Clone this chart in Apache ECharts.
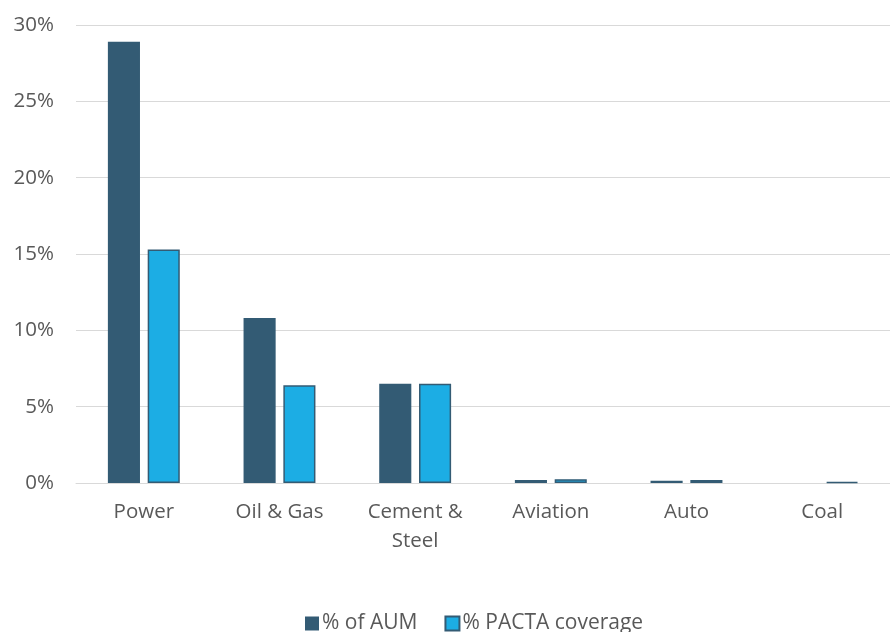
<!DOCTYPE html>
<html>
<head>
<meta charset="utf-8">
<script src="https://cdn.jsdelivr.net/npm/echarts@6/dist/echarts.min.js"></script>
<style>
  html, body { margin: 0; padding: 0; background: #fff; }
  #chart { width: 890px; height: 632px; }
</style>
</head>
<body>
<div id="chart"></div>
<script>
// sectors and shares (percent)
const sectors = ["Power", "Oil & Gas", "Cement &\nSteel", "Aviation", "Auto", "Coal"];
const aumShare = [28.9, 10.8, 6.5, 0.2, 0.15, 0.0];
const pactaCoverage = [15.3, 6.4, 6.5, 0.25, 0.2, 0.08];
const yTicks = [0, 5, 10, 15, 20, 25, 30];

const labelFont = '"Open Sans", "Liberation Sans", sans-serif';

const chart = echarts.init(document.getElementById("chart"), null, { renderer: "canvas" });

chart.setOption({
  animation: false,
  grid: { left: 76, right: 0, top: 25, bottom: 149, containLabel: false },
  legend: {
    top: 608,
    left: 300,
    itemWidth: 14,
    itemHeight: 14,
    itemGap: 27,
    icon: "rect",
    textStyle: { fontFamily: labelFont, fontSize: 21, color: "#595959", padding: [0, 0, 0, -2] },
    data: ["% of AUM", "% PACTA coverage"]
  },
  xAxis: {
    type: "category",
    data: sectors,
    axisLine: { lineStyle: { color: "#d9d9d9", width: 1 } },
    axisTick: { show: false },
    axisLabel: {
      fontFamily: labelFont, fontSize: 20.5, color: "#595959",
      margin: 15, lineHeight: 29
    }
  },
  yAxis: {
    type: "value",
    min: yTicks[0],
    max: yTicks[yTicks.length - 1],
    interval: 5,
    axisLine: { show: false },
    axisTick: { show: false },
    splitLine: { lineStyle: { color: "#d9d9d9", width: 1 } },
    axisLabel: {
      fontFamily: labelFont, fontSize: 20.5, color: "#595959", margin: 22,
      formatter: v => v + "%"
    }
  },
  series: [
    {
      name: "% of AUM",
      type: "bar",
      data: aumShare,
      barGap: "24%",
      barCategoryGap: "47%",
      itemStyle: { color: "#335b74" }
    },
    {
      name: "% PACTA coverage",
      type: "bar",
      data: pactaCoverage,
      itemStyle: { color: "#1cade4", borderColor: "#335b74", borderWidth: 1.5 }
    }
  ]
});
</script>
</body>
</html>
